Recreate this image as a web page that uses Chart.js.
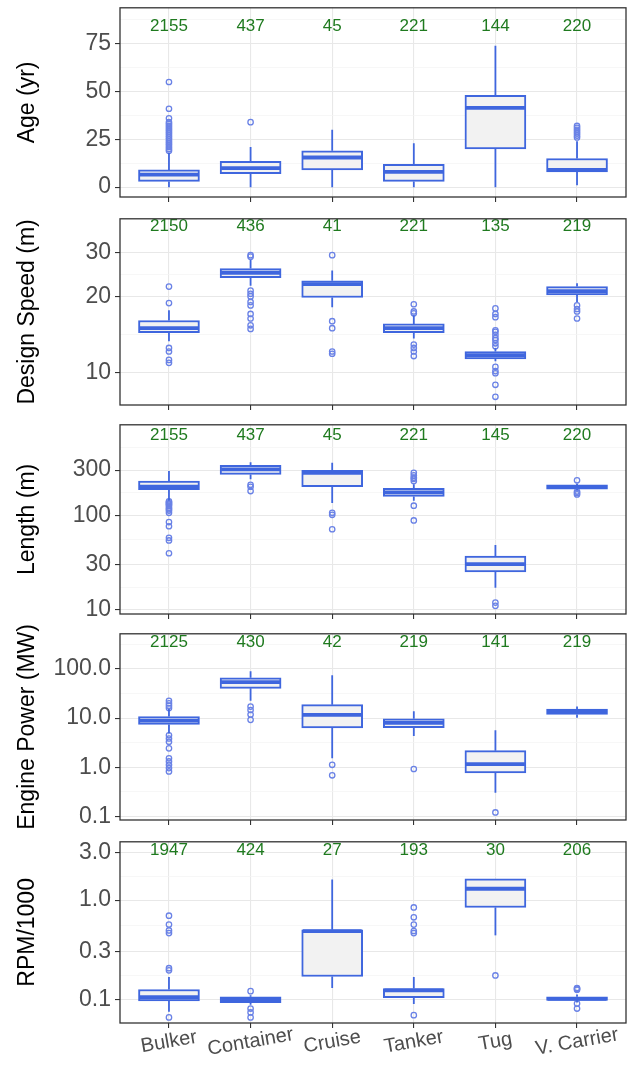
<!DOCTYPE html>
<html>
<head>
<meta charset="utf-8">
<script src="https://cdn.jsdelivr.net/npm/chart.js@4.4.1/dist/chart.umd.min.js"></script>
<style>
  body { margin: 0; background: #fff; width: 633px; height: 1066px; overflow: hidden; position: relative; }
  canvas { position: absolute; left: 0; }
</style>
</head>
<body>
<canvas id="pAge" width="633" height="228" style="top:-10px"></canvas>
<canvas id="pSpeed" width="633" height="225" style="top:201px"></canvas>
<canvas id="pLength" width="633" height="228" style="top:407px"></canvas>
<canvas id="pPower" width="633" height="225" style="top:616px"></canvas>
<canvas id="pRpm" width="633" height="246" style="top:824px"></canvas>
<script>
const categories = ['Bulker', 'Container', 'Cruise', 'Tanker', 'Tug', 'V. Carrier'];

// each row: [lower whisker, q1, median, q3, upper whisker]
const ageBox = [
  [0, 3, 6.5, 9, 18],
  [0, 7, 10, 13.5, 21],
  [0, 9, 15.5, 19, 30],
  [0, 3, 8, 12, 23],
  [0, 20, 41.5, 48, 74],
  [1, 8, 9, 15, 24]
];
const ageOut = [
  [19, 20, 21, 22, 23, 24, 25, 26, 27, 28, 29, 30, 31, 32, 33, 34, 36, 41, 55],
  [34],
  [],
  [],
  [],
  [26, 27, 28, 29, 30, 31, 32]
];
const ageN = [2155, 437, 45, 221, 144, 220];

const speedBox = [
  [13.3, 14.4, 15.0, 16.1, 17.7],
  [22.2, 23.9, 25.0, 26.0, 28.1],
  [18.2, 19.9, 22.5, 23.2, 25.5],
  [13.65, 14.4, 15.0, 15.6, 16.9],
  [11.05, 11.3, 11.7, 12.1, 12.47],
  [19.1, 20.4, 21.1, 22.0, 22.7]
];
const speedOut = [
  [18.9, 22.0, 12.5, 12.1, 11.2, 10.9],
  [29.0, 29.4, 21.2, 20.6, 20.1, 19.1, 18.5, 17.1, 16.4, 15.4, 14.9],
  [29.4, 16.0, 15.0, 12.1, 11.85],
  [17.2, 17.5, 18.7, 12.9, 12.5, 12.1, 11.6],
  [18.0, 17.1, 16.6, 14.7, 14.5, 14.1, 13.7, 13.45, 13.05, 12.7, 10.5, 10.1, 9.9, 8.9, 7.97],
  [18.5, 17.9, 17.5, 16.4]
];
const speedN = [2150, 436, 41, 221, 135, 219];

const lengthBox = [
  [142, 186, 200, 230, 293],
  [240, 270, 305, 336, 363],
  [135, 200, 281, 298, 358],
  [142, 158, 174, 192, 213],
  [17.1, 25.1, 30.4, 36.9, 48.4],
  [185, 189, 199, 209, 215]
];
const lengthOut = [
  [140, 137, 133, 130, 126, 120, 116, 112, 106, 84.7, 76.4, 57.7, 54.1, 39.6],
  [210, 200, 180],
  [106, 101, 71],
  [230, 243, 250, 264, 281, 126, 88],
  [11.9, 11.0],
  [234, 178, 172, 166]
];
const lengthN = [2155, 437, 45, 221, 145, 220];

const powerBox = [
  [4.83, 7.43, 8.9, 10.75, 15.3],
  [22.5, 40.3, 54, 66, 89.8],
  [1.52, 6.27, 11.6, 18.7, 74.6],
  [4.33, 6.37, 8.0, 9.65, 13.7],
  [0.303, 0.763, 1.155, 2.17, 5.64],
  [10.1, 11.8, 13.6, 15.3, 17.1]
];
const powerOut = [
  [22.5, 19.9, 17.9, 16.0, 4.47, 3.84, 3.29, 2.42, 1.52, 1.31, 1.12, 0.96, 0.82],
  [17.1, 14.6, 11.8, 9.2],
  [1.12, 0.685],
  [0.92],
  [0.12],
  []
];
const powerN = [2125, 430, 42, 219, 141, 219];

const rpmBox = [
  [0.075, 0.0962, 0.105, 0.1256, 0.168],
  [0.088, 0.0926, 0.0998, 0.1062, 0.11],
  [0.1305, 0.170, 0.487, 0.502, 1.607],
  [0.09, 0.1039, 0.123, 0.1285, 0.168],
  [0.441, 0.842, 1.299, 1.633, 1.633],
  [0.093, 0.0977, 0.101, 0.106, 0.112]
];
const rpmOut = [
  [0.696, 0.567, 0.494, 0.465, 0.206, 0.196, 0.0658],
  [0.121, 0.0808, 0.0738, 0.0658],
  [],
  [0.842, 0.67, 0.566, 0.488, 0.465, 0.0693],
  [0.174],
  [0.13, 0.128, 0.125, 0.0906, 0.0808]
];
const rpmN = [1947, 424, 27, 193, 30, 206];

const BLUE = '#3f66de';
const OUT_BLUE = '#6a82e6';
const GREEN = '#1f7a1f';
const FONT = "'Liberation Sans', Arial, sans-serif";
const BOX_PX = 61;

// medians, whiskers, counts, frame and the rotated category names
function extras(box, counts, countAt, showX) {
  return {
    id: 'extras',
    afterDatasetsDraw(chart) {
      const { ctx, chartArea: a, scales: { x, y } } = chart;
      const half = BOX_PX / 2;
      ctx.save();
      ctx.strokeStyle = BLUE;
      box.forEach((b, i) => {
        const cx = x.getPixelForValue(i + 1);
        ctx.lineWidth = 1.8;
        ctx.beginPath();
        ctx.moveTo(cx, y.getPixelForValue(b[0]));
        ctx.lineTo(cx, y.getPixelForValue(b[1]));
        ctx.moveTo(cx, y.getPixelForValue(b[3]));
        ctx.lineTo(cx, y.getPixelForValue(b[4]));
        ctx.stroke();
        const my = y.getPixelForValue(b[2]);
        ctx.lineWidth = 3.8;
        ctx.beginPath();
        ctx.moveTo(cx - half + 1, my);
        ctx.lineTo(cx + half - 1, my);
        ctx.stroke();
      });

      ctx.fillStyle = GREEN;
      ctx.font = '17px ' + FONT;
      ctx.textAlign = 'center';
      ctx.textBaseline = 'middle';
      counts.forEach((n, i) => ctx.fillText(String(n), x.getPixelForValue(i + 1), y.getPixelForValue(countAt)));

      ctx.strokeStyle = '#333';
      ctx.lineWidth = 1.3;
      ctx.strokeRect(a.left, a.top, a.width, a.height);

      if (showX) {
        ctx.fillStyle = '#4d4d4d';
        ctx.font = '20px ' + FONT;
        categories.forEach((c, i) => {
          ctx.save();
          ctx.translate(x.getPixelForValue(i + 1), a.bottom + 19);
          ctx.rotate(-10 * Math.PI / 180);
          ctx.fillText(c, 0, 0);
          ctx.restore();
        });
      }
      ctx.restore();
    }
  };
}

function panel(id, title, box, out, counts, ax, showX) {
  const ticks = ax.major.concat(ax.minor).sort((p, q) => p - q);
  const outPts = [];
  out.forEach((list, i) => list.forEach(v => outPts.push({ x: i + 1, y: v })));

  new Chart(document.getElementById(id), {
    type: 'bar',
    data: {
      datasets: [
        {
          type: 'scatter',
          data: outPts,
          pointRadius: 2.7,
          pointBorderWidth: 1.3,
          pointBorderColor: OUT_BLUE,
          pointBackgroundColor: 'rgba(0,0,0,0)',
          order: 0
        },
        {
          data: box.map((b, i) => ({ x: i + 1, y: [b[1], b[3]] })),
          backgroundColor: '#f2f2f2',
          borderColor: BLUE,
          borderWidth: 2,
          borderSkipped: false,
          barThickness: BOX_PX,
          order: 1
        }
      ]
    },
    options: {
      responsive: false,
      animation: false,
      devicePixelRatio: 1,
      layout: { padding: { top: 16, left: 10, right: 7, bottom: showX ? 42 : 16 } },
      plugins: { legend: { display: false }, tooltip: { enabled: false } },
      scales: {
        x: {
          type: 'linear',
          min: 0.4,
          max: 6.6,
          offset: false,
          afterBuildTicks: s => { s.ticks = categories.map((c, i) => ({ value: i + 1 })); },
          afterFit: s => { s.height = 5; },
          ticks: { display: false },
          grid: { offset: false, color: '#e8e8e8', lineWidth: 1.1, tickColor: '#333', tickLength: 5 },
          border: { display: false }
        },
        y: {
          type: ax.type,
          min: ax.min,
          max: ax.max,
          afterBuildTicks: s => { s.ticks = ticks.map(v => ({ value: v })); },
          afterFit: s => { s.width = 110; },
          ticks: {
            color: '#4d4d4d',
            font: { family: FONT, size: 23 },
            padding: 4,
            autoSkip: false,
            callback: v => ax.major.includes(v) ? ax.fmt(v) : ''
          },
          grid: {
            color: c => ax.major.includes(c.tick.value) ? '#e8e8e8' : '#f3f3f3',
            lineWidth: c => ax.major.includes(c.tick.value) ? 1.1 : 0.7,
            tickColor: c => ax.major.includes(c.tick.value) ? '#333' : 'rgba(0,0,0,0)',
            tickLength: 5
          },
          border: { display: false },
          title: {
            display: true,
            text: title,
            color: '#000',
            font: { family: FONT, size: 23 },
            padding: { top: 4, bottom: 4 }
          }
        }
      }
    },
    plugins: [extras(box, counts, ax.countAt, showX)]
  });
}

panel('pAge', 'Age (yr)', ageBox, ageOut, ageN, {
  type: 'linear', min: -5.15, max: 93.8,
  major: [0, 25, 50, 75], minor: [12.5, 37.5, 62.5, 87.5],
  fmt: v => String(v), countAt: 84
}, false);

panel('pSpeed', 'Design Speed (m)', speedBox, speedOut, speedN, {
  type: 'logarithmic', min: 7.39, max: 41.1,
  major: [10, 20, 30], minor: [14.14, 24.49],
  fmt: v => String(v), countAt: 38.2
}, false);

panel('pLength', 'Length (m)', lengthBox, lengthOut, lengthN, {
  type: 'logarithmic', min: 9.02, max: 904,
  major: [10, 30, 100, 300], minor: [17.3, 54.8, 173.2, 519.6],
  fmt: v => String(v), countAt: 695
}, false);

panel('pPower', 'Engine Power (MW)', powerBox, powerOut, powerN, {
  type: 'logarithmic', min: 0.0843, max: 518,
  major: [0.1, 1, 10, 100], minor: [0.316, 3.16, 31.6, 316],
  fmt: v => v.toFixed(1), countAt: 350
}, false);

panel('pRpm', 'RPM/1000', rpmBox, rpmOut, rpmN, {
  type: 'logarithmic', min: 0.0578, max: 3.86,
  major: [0.1, 0.3, 1, 3], minor: [0.173, 0.548, 1.732],
  fmt: v => v.toFixed(1), countAt: 3.19
}, true);
</script>
</body>
</html>
